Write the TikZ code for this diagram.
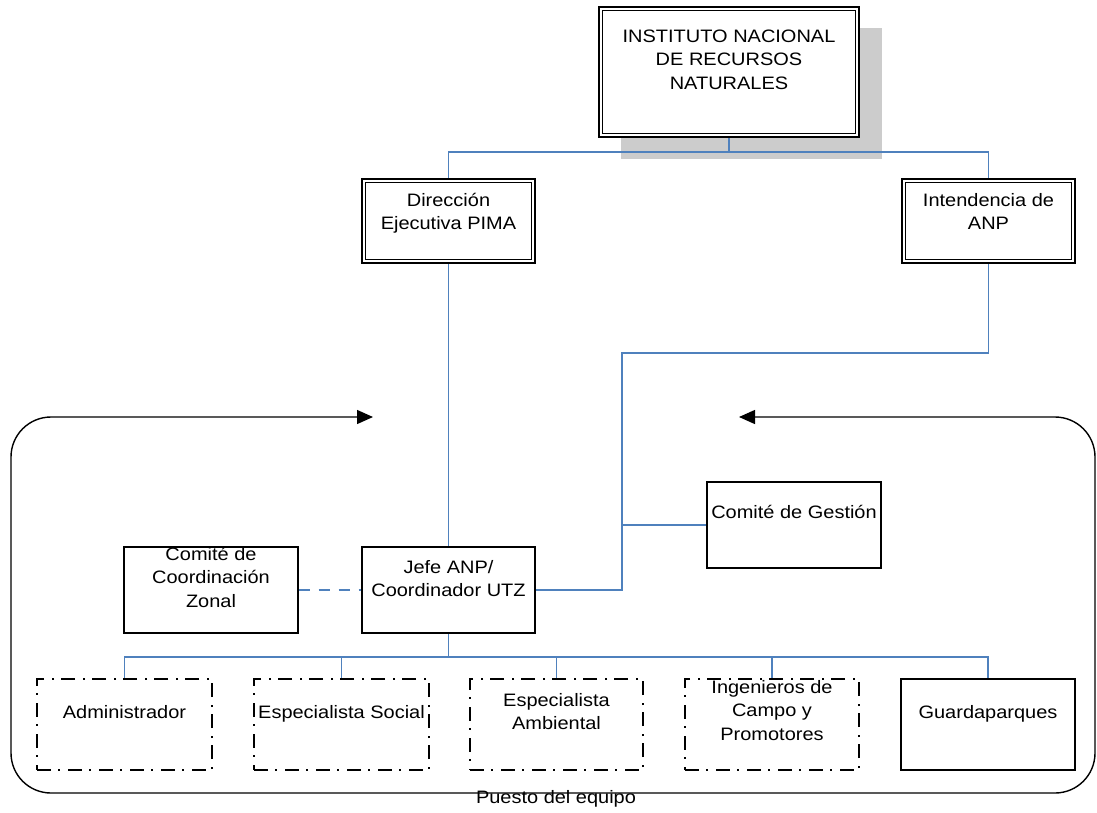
\documentclass[tikz,border=0pt]{standalone}
\usepackage{fontspec}
\setmainfont{Liberation Sans}[FakeStretch=1.11]
\usetikzlibrary{arrows.meta,backgrounds}
\definecolor{lnblue}{RGB}{79,129,189}
\definecolor{shadowgray}{RGB}{204,204,204}
\newcommand{\myst}{\rule{0pt}{14pt}}
\begin{document}
\begin{tikzpicture}[x=1pt,y=-1pt,
  dbox/.style={draw=black, line width=1.2pt, double, double distance=2.2pt, fill=white, inner sep=0pt, minimum width=169.5pt, minimum height=80.5pt},
  sbox/.style={draw=black, line width=1.4pt, fill=white, inner sep=0pt, minimum width=174pt, minimum height=86pt},
  ddbox/.style={draw=black, line width=1.4pt, dash pattern=on 14pt off 7pt on 2pt off 8pt, inner sep=0pt, minimum width=175pt, minimum height=91pt},
  txt/.style={font=\fontsize{18}{23.5}\selectfont, align=center, inner sep=0pt, anchor=north},
  conn/.style={draw=lnblue, line width=1.5pt},
  frameline/.style={draw=black, line width=1.4pt, rounded corners=40pt, {Triangle[length=16pt,width=14pt]}-{Triangle[length=16pt,width=14pt]}}
]
\useasboundingbox (0,0) rectangle (1097,812);

% boxes
\node[dbox, minimum width=256.5pt, minimum height=126.5pt] (inst) at (729,72) {};
\node[dbox] (dir) at (448.5,221) {};
\node[dbox] (int) at (988.5,221) {};
\node[sbox] (gest) at (794,525) {};
\node[sbox, minimum width=173pt] (jefe) at (448.5,590) {};
\node[sbox] (zonal) at (211,590) {};
\node[ddbox] (adm) at (124.5,724.5) {};
\node[ddbox] (soc) at (341.5,724.5) {};
\node[ddbox, minimum width=173pt] (amb) at (556.5,724.5) {};
\node[ddbox, minimum width=174pt] (ing) at (772,724.5) {};
\node[sbox, minimum height=91pt] (gua) at (988,724.5) {};

% texts
\node[txt] (tinst) at (729,28) {\myst INSTITUTO NACIONAL\\DE RECURSOS\\NATURALES};
\node[txt] (tdir) at (448.5,192) {\myst Dirección\\Ejecutiva PIMA};
\node[txt] (tint) at (988.5,192) {\myst Intendencia de\\ANP};
\node[txt] (tgest) at (794,504) {\myst Comité de Gestión};
\node[txt] (tjefe) at (448.5,559) {\myst Jefe ANP/\\Coordinador UTZ};
\node[txt] (tzonal) at (211,546) {\myst Comité de\\Coordinación\\Zonal};
\node[txt] (tadm) at (124.5,704) {\myst Administrador};
\node[txt] (tsoc) at (341.5,704) {\myst Especialista Social};
\node[txt] (tamb) at (556.5,692) {\myst Especialista\\Ambiental};
\node[txt] (ting) at (772,679) {\myst Ingenieros de\\Campo y\\Promotores};
\node[txt] (tgua) at (988,704) {\myst Guardaparques};
\node[txt] (tpuesto) at (556,789) {\myst Puesto del equipo};

% coordinates
\coordinate (bend) at (622,353);
\coordinate (jn) at (622,590);
\coordinate (bus) at (448.5,657);
\coordinate (fl) at (373,417);
\coordinate (fr) at (739,417);

\begin{scope}[on background layer]
  \fill[shadowgray] (621,28) rectangle (882,159);
  \draw[conn] (inst.south) -- ++(0,16) coordinate (hub);
  \draw[conn] (dir.north) |- (hub) -| (int.north);
  \draw[conn] (dir.south) -- (jefe.north);
  \draw[conn] (int.south) |- (bend) -- (jn) -- (jefe.east);
  \draw[conn] (jn |- gest.west) -- (gest.west);
  \draw[conn, dash pattern=on 11pt off 9pt] (zonal.east) -- (jefe.west);
  \draw[conn] (jefe.south) -- (bus);
  \draw[conn] (adm.north) |- (bus) -| (gua.north);
  \draw[conn] (soc.north) -- (soc.north |- bus);
  \draw[conn] (amb.north) -- (amb.north |- bus);
  \draw[conn] (ing.north) -- (ing.north |- bus);
\end{scope}

% frame with arrows
\draw[frameline] (fl) -- (11,417) -- (11,793) -- (1095,793) -- (1095,417) -- (fr);
\end{tikzpicture}
\end{document}
